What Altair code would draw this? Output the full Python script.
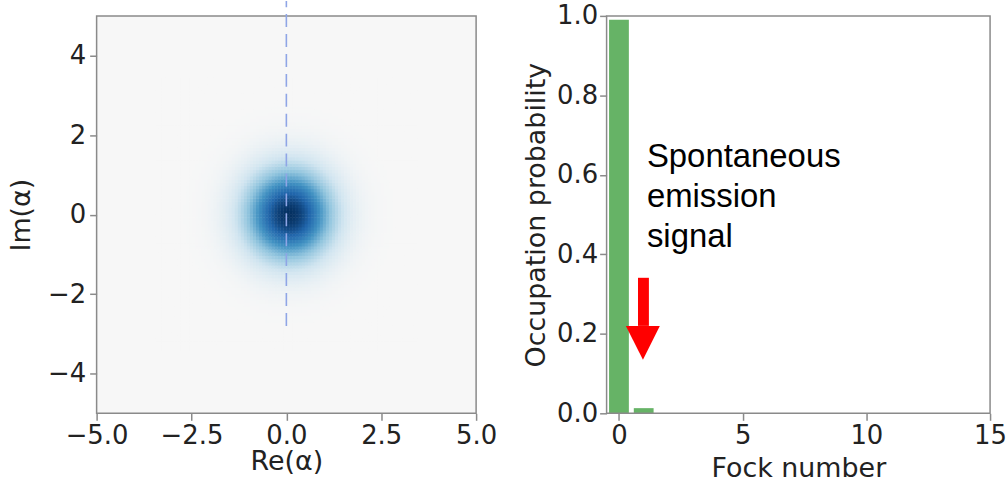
import altair as alt
import numpy as np
import pandas as pd

# ---------------- data ----------------
# Wigner panel
re_domain = [-5, 5]
im_domain = [-5, 5]
re_ticks = [-5.0, -2.5, 0.0, 2.5, 5.0]
im_ticks = [-4, -2, 0, 2, 4]
blob_center = [0.07, 0.0]     # Re, Im of the blob centre
blob_sigma = 0.8              # gaussian width of the blob
grid_step = 0.08
grid_half = 3.4

dash_x = [0.0, 0.0]
dash_y = [-2.8, 5.375]

# colour ramp (positive half of a diverging red-blue map)
ramp_stops = [0.0, 0.2, 0.4, 0.6, 0.8, 1.0]
ramp_colors = ["#f7f7f7", "#d1e5f0", "#92c5de", "#4393c3", "#2166ac", "#053061"]

# Fock distribution panel
fock_domain = [-0.5, 15]
prob_domain = [0, 1]
fock_n = [0, 1]
fock_p = [0.99, 0.013]
fock_ticks = [0, 5, 10, 15]
prob_ticks = [0.0, 0.2, 0.4, 0.6, 0.8, 1.0]

note_lines = ["Spontaneous", "emission", "signal"]
note_pos = [1.13, 0.619]
arrow_shaft_x = [0.77, 1.21]
arrow_shaft_y = [0.22, 0.341]
arrow_head_x = [0.28, 0.97, 1.65]
arrow_head_y = [0.22, 0.135, 0.22]
arrow_head_base = 0.22

# ---------------- tables ----------------
centers = np.arange(-grid_half, grid_half + 1e-9, grid_step)
gx, gy = np.meshgrid(centers, centers)
gx = gx.ravel()
gy = gy.ravel()
w = np.exp(-((gx - blob_center[0]) ** 2 + (gy - blob_center[1]) ** 2) / (2 * blob_sigma ** 2))
ov = 0.012
heat_df = pd.DataFrame({
    "x1": gx - grid_step / 2, "x2": gx + grid_step / 2 + ov,
    "y1": gy - grid_step / 2, "y2": gy + grid_step / 2 + ov,
    "w": w,
})
dash_df = pd.DataFrame({"x": dash_x, "y": dash_y})

bar_df = pd.DataFrame({"n": fock_n, "p": fock_p})
bar_df["x1"] = bar_df["n"] - 0.4
bar_df["x2"] = bar_df["n"] + 0.4
note_df = pd.DataFrame({"x": [note_pos[0]], "y": [note_pos[1]], "t": ["\n".join(note_lines)]})
shaft_df = pd.DataFrame({"x1": [arrow_shaft_x[0]], "x2": [arrow_shaft_x[1]],
                         "y1": [arrow_shaft_y[0]], "y2": [arrow_shaft_y[1]]})
head_df = pd.DataFrame({"x": arrow_head_x, "y": arrow_head_y, "y2": [arrow_head_base] * 3})
frame_df = pd.DataFrame({"x1": [fock_domain[0]], "x2": [fock_domain[1]],
                         "y1": [prob_domain[0]], "y2": [prob_domain[1]]})

LABEL = "#222222"
SPINE = "#8a8a8a"

def xaxis(title, values, fmt, tpad):
    return alt.Axis(title=title, values=values, format=fmt, domain=False, grid=False,
                    tickSize=7, tickWidth=1.5, tickColor=SPINE, labelPadding=2,
                    titlePadding=tpad, labelFlush=False)

def yaxis(title, values, fmt, lpad, tpad):
    return alt.Axis(title=title, values=values, format=fmt, domain=False, grid=False,
                    tickSize=7, tickWidth=1.5, tickColor=SPINE, labelPadding=lpad,
                    titlePadding=tpad, labelFlush=False)

# ---------------- left panel ----------------
xs = alt.Scale(domain=re_domain, nice=False, zero=False)
ys = alt.Scale(domain=im_domain, nice=False, zero=False)

heat = alt.Chart(heat_df).mark_rect(strokeWidth=0).encode(
    x=alt.X("x1:Q", scale=xs, axis=xaxis("Re(α)", re_ticks, ".1f", 0)),
    x2="x2:Q",
    y=alt.Y("y1:Q", scale=ys, axis=yaxis("Im(α)", im_ticks, "d", 4, 12)),
    y2="y2:Q",
    color=alt.Color("w:Q", scale=alt.Scale(domain=ramp_stops, range=ramp_colors,
                                           interpolate="rgb"), legend=None),
)
dash = alt.Chart(dash_df).mark_line(color="#8fa5e6", strokeWidth=1.6, strokeDash=[13, 7], clip=False).encode(
    x=alt.X("x:Q", scale=xs), y=alt.Y("y:Q", scale=ys)
)
left = alt.layer(heat, dash).properties(
    width=381, height=399,
    view=alt.ViewBackground(fill="#f7f7f7", stroke=SPINE, strokeWidth=1.5),
)

# ---------------- right panel ----------------
fx = alt.Scale(domain=fock_domain, nice=False, zero=False)
fy = alt.Scale(domain=prob_domain, nice=False, zero=False)

bars = alt.Chart(bar_df).mark_rect(color="#66b366").encode(
    x=alt.X("x1:Q", scale=fx, axis=xaxis("Fock number", fock_ticks, "d", 7)),
    x2="x2:Q",
    y=alt.Y("p:Q", scale=fy, axis=yaxis("Occupation probability", prob_ticks, ".1f", 2, 6)),
    y2=alt.datum(0),
)
frame = alt.Chart(frame_df).mark_rect(filled=False, stroke=SPINE, strokeWidth=1.5).encode(
    x=alt.X("x1:Q", scale=fx), x2="x2:Q", y=alt.Y("y1:Q", scale=fy), y2="y2:Q"
)
shaft = alt.Chart(shaft_df).mark_rect(color="#ff0000").encode(
    x=alt.X("x1:Q", scale=fx), x2="x2:Q", y=alt.Y("y1:Q", scale=fy), y2="y2:Q"
)
head = alt.Chart(head_df).mark_area(color="#ff0000", opacity=1).encode(
    x=alt.X("x:Q", scale=fx), y=alt.Y("y:Q", scale=fy), y2="y2:Q"
)
note = alt.Chart(note_df).mark_text(
    align="left", baseline="alphabetic", font="Liberation Sans", fontSize=33,
    lineHeight=40, lineBreak="\n", color="#000000"
).encode(x=alt.X("x:Q", scale=fx), y=alt.Y("y:Q", scale=fy), text="t:N")

right = alt.layer(bars, frame, shaft, head, note).properties(
    width=385, height=399,
    view=alt.ViewBackground(fill="#ffffff", stroke="transparent"),
)

chart = alt.hconcat(left, right, spacing=131, bounds="flush").configure(
    padding={"left": 6, "top": -4, "right": 0, "bottom": 0},
    background="#ffffff",
).configure_axis(
    labelFont="DejaVu Sans", titleFont="DejaVu Sans",
    labelFontSize=26, titleFontSize=27, labelColor=LABEL, titleColor=LABEL,
    titleFontWeight="normal",
)

chart.save("out.html", embed_options={"renderer": "svg", "actions": False})
